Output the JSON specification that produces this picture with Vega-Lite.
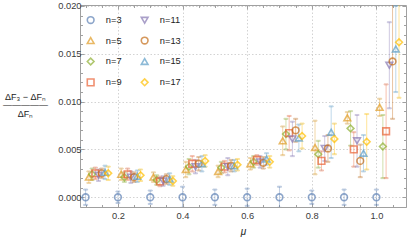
{
  "$schema": "https://vega.github.io/schema/vega-lite/v6.json",
  "width": 326,
  "height": 202,
  "autosize": {"type": "none"},
  "padding": {"left": 80, "top": 5, "right": 1, "bottom": 33},
  "background": "white",
  "config": {
    "view": {"stroke": "#a0a0a0", "strokeWidth": 1},
    "font": "Liberation Sans",
    "axis": {
      "domain": false,
      "tickColor": "#a0a0a0",
      "tickWidth": 1,
      "labelColor": "#3a3a3a",
      "labelFont": "Liberation Sans",
      "labelFontSize": 9.3,
      "titleFont": "Liberation Sans",
      "titleFontWeight": "normal",
      "titleColor": "#222",
      "gridColor": "#c8c8c8",
      "gridDash": [1.5, 2],
      "gridWidth": 0.8
    },
    "legend": {
      "padding": 0, "symbolSize": 45, "symbolStrokeWidth": 1.6, "labelFontSize": 9.3, "labelColor": "#222",
      "labelOffset": 10.5, "rowPadding": 6.9, "columnPadding": 16, "labelFont": "Liberation Sans"
    }
  },
  "data": {"values": [
    {"n":"n=3","x":0.1,"y":0,"e":0.0008},{"n":"n=3","x":0.2,"y":0,"e":0.0006},{"n":"n=3","x":0.3,"y":0,"e":0.0007},{"n":"n=3","x":0.4,"y":0,"e":0.0011},{"n":"n=3","x":0.5,"y":0,"e":0.0008},{"n":"n=3","x":0.6,"y":0,"e":0.0009},{"n":"n=3","x":0.7,"y":0,"e":0.0011},{"n":"n=3","x":0.8,"y":0,"e":0.0007},{"n":"n=3","x":0.9,"y":0,"e":0.0008},{"n":"n=3","x":1.0,"y":0,"e":0.0008},
    {"n":"n=5","x":0.11,"y":0.0021,"e":0.0006},{"n":"n=5","x":0.21,"y":0.0024,"e":0.0006},{"n":"n=5","x":0.31,"y":0.0021,"e":0.0005},{"n":"n=5","x":0.41,"y":0.0029,"e":0.0008},{"n":"n=5","x":0.51,"y":0.0027,"e":0.0006},{"n":"n=5","x":0.61,"y":0.0035,"e":0.0006},{"n":"n=5","x":0.71,"y":0.0059,"e":0.0015},{"n":"n=5","x":0.81,"y":0.0052,"e":0.0028},{"n":"n=5","x":0.91,"y":0.0083,"e":0.0006},{"n":"n=5","x":1.01,"y":0.0094,"e":0.0009},
    {"n":"n=7","x":0.12,"y":0.0024,"e":0.0006},{"n":"n=7","x":0.22,"y":0.0021,"e":0.0005},{"n":"n=7","x":0.32,"y":0.0018,"e":0.0005},{"n":"n=7","x":0.42,"y":0.0032,"e":0.0008},{"n":"n=7","x":0.52,"y":0.0031,"e":0.0006},{"n":"n=7","x":0.62,"y":0.0037,"e":0.0006},{"n":"n=7","x":0.72,"y":0.0066,"e":0.0016},{"n":"n=7","x":0.82,"y":0.0045,"e":0.0014},{"n":"n=7","x":0.92,"y":0.0072,"e":0.0018},{"n":"n=7","x":1.02,"y":0.0053,"e":0.0033},
    {"n":"n=9","x":0.13,"y":0.0025,"e":0.0006},{"n":"n=9","x":0.23,"y":0.0024,"e":0.0006},{"n":"n=9","x":0.33,"y":0.00165,"e":0.0005},{"n":"n=9","x":0.43,"y":0.0035,"e":0.0008},{"n":"n=9","x":0.53,"y":0.0032,"e":0.0006},{"n":"n=9","x":0.63,"y":0.0039,"e":0.0005},{"n":"n=9","x":0.73,"y":0.0067,"e":0.0018},{"n":"n=9","x":0.83,"y":0.0038,"e":0.001},{"n":"n=9","x":0.93,"y":0.005,"e":0.0018},{"n":"n=9","x":1.03,"y":0.0069,"e":0.0049},
    {"n":"n=11","x":0.14,"y":0.0023,"e":0.0006},{"n":"n=11","x":0.24,"y":0.0021,"e":0.0006},{"n":"n=11","x":0.34,"y":0.0017,"e":0.0005},{"n":"n=11","x":0.44,"y":0.0032,"e":0.0007},{"n":"n=11","x":0.54,"y":0.0032,"e":0.0009},{"n":"n=11","x":0.64,"y":0.0037,"e":0.0006},{"n":"n=11","x":0.74,"y":0.0061,"e":0.0018},{"n":"n=11","x":0.84,"y":0.0051,"e":0.0013},{"n":"n=11","x":0.94,"y":0.0059,"e":0.0027},{"n":"n=11","x":1.04,"y":0.0138,"e":0.0045},
    {"n":"n=13","x":0.15,"y":0.0025,"e":0.0005},{"n":"n=13","x":0.25,"y":0.0021,"e":0.0005},{"n":"n=13","x":0.35,"y":0.0019,"e":0.0005},{"n":"n=13","x":0.45,"y":0.0035,"e":0.0007},{"n":"n=13","x":0.55,"y":0.0033,"e":0.0006},{"n":"n=13","x":0.65,"y":0.0036,"e":0.0006},{"n":"n=13","x":0.75,"y":0.007,"e":0.0012},{"n":"n=13","x":0.85,"y":0.0051,"e":0.0014},{"n":"n=13","x":0.95,"y":0.0038,"e":0.0017},{"n":"n=13","x":1.05,"y":0.0142,"e":0.006},
    {"n":"n=15","x":0.16,"y":0.0026,"e":0.0007},{"n":"n=15","x":0.26,"y":0.0022,"e":0.0006},{"n":"n=15","x":0.36,"y":0.0019,"e":0.0006},{"n":"n=15","x":0.46,"y":0.0035,"e":0.0008},{"n":"n=15","x":0.56,"y":0.0033,"e":0.0006},{"n":"n=15","x":0.66,"y":0.004,"e":0.0006},{"n":"n=15","x":0.76,"y":0.0062,"e":0.0014},{"n":"n=15","x":0.86,"y":0.0068,"e":0.0027},{"n":"n=15","x":0.96,"y":0.0046,"e":0.0019},{"n":"n=15","x":1.06,"y":0.0155,"e":0.0045},
    {"n":"n=17","x":0.17,"y":0.0025,"e":0.0007},{"n":"n=17","x":0.27,"y":0.0023,"e":0.0006},{"n":"n=17","x":0.37,"y":0.0017,"e":0.0005},{"n":"n=17","x":0.47,"y":0.0038,"e":0.0006},{"n":"n=17","x":0.57,"y":0.0034,"e":0.0006},{"n":"n=17","x":0.67,"y":0.0037,"e":0.0006},{"n":"n=17","x":0.77,"y":0.0064,"e":0.0013},{"n":"n=17","x":0.87,"y":0.0061,"e":0.0016},{"n":"n=17","x":0.97,"y":0.0058,"e":0.0029},{"n":"n=17","x":1.07,"y":0.0162,"e":0.0058}
  ]},
  "resolve": {"axis": {"x": "independent", "y": "independent"}},
  "layer": [
    {
      "mark": {"type": "errorbar", "ticks": {"size": 4}, "opacity": 0.4, "thickness": 1, "clip": true},
      "encoding": {
        "x": {"field": "x", "type": "quantitative",
          "scale": {"domain": [0.0826, 1.0916], "nice": false, "zero": false},
          "axis": {"orient": "bottom", "title": "μ", "titleFontStyle": "italic", "titleFontSize": 10, "titlePadding": 6,
            "values": [0.1,0.15,0.2,0.25,0.3,0.35,0.4,0.45,0.5,0.55,0.6,0.65,0.7,0.75,0.8,0.85,0.9,0.95,1.0,1.05],
            "labelExpr": "abs(datum.value*5 - round(datum.value*5)) < 0.001 ? format(datum.value, '.1f') : ''",
            "tickSize": {"condition": {"test": "abs(datum.value*5 - round(datum.value*5)) < 0.001", "value": -4}, "value": -2.5},
            "gridOpacity": {"condition": {"test": "abs(datum.value*5 - round(datum.value*5)) < 0.001", "value": 1}, "value": 0},
            "grid": true, "labelPadding": 8.5}},
        "y": {"field": "y", "type": "quantitative",
          "scale": {"domain": [-0.00102, 0.0201], "nice": false, "zero": false},
          "axis": {"orient": "left",
            "title": ["ΔF₃ − ΔFₙ", "—————", "ΔFₙ"],
            "titleAngle": 0, "titleAlign": "center", "titleBaseline": "middle", "titleFontSize": 9, "titleLineHeight": 8.5,
            "titleX": -55, "titleY": 91,
            "values": [-0.001,0,0.001,0.002,0.003,0.004,0.005,0.006,0.007,0.008,0.009,0.01,0.011,0.012,0.013,0.014,0.015,0.016,0.017,0.018,0.019,0.02],
            "labelExpr": "abs(datum.value*200 - round(datum.value*200)) < 0.001 ? format(datum.value, '.3f') : ''",
            "tickSize": {"condition": {"test": "abs(datum.value*200 - round(datum.value*200)) < 0.001", "value": -4}, "value": -2.5},
            "gridOpacity": {"condition": {"test": "abs(datum.value*200 - round(datum.value*200)) < 0.001", "value": 1}, "value": 0},
            "grid": true, "labelPadding": 3}},
        "yError": {"field": "e"},
        "stroke": {"field": "n", "type": "nominal", "legend": null,
          "scale": {"domain": ["n=3","n=11","n=5","n=13","n=7","n=15","n=9","n=17"],
                    "range": ["#5E81B5","#8778B3","#E19C24","#C56E1A","#8FB032","#5D9EC7","#EB6235","#FFBF00"]}}
      }
    },
    {
      "mark": {"type": "point", "filled": false, "strokeWidth": 1.6, "size": 45},
      "encoding": {
        "x": {"field": "x", "type": "quantitative",
          "axis": {"orient": "top", "title": null, "labels": false, "grid": false,
            "values": [0.1,0.15,0.2,0.25,0.3,0.35,0.4,0.45,0.5,0.55,0.6,0.65,0.7,0.75,0.8,0.85,0.9,0.95,1.0,1.05],
            "tickSize": {"condition": {"test": "abs(datum.value*5 - round(datum.value*5)) < 0.001", "value": -4}, "value": -2.5}}},
        "y": {"field": "y", "type": "quantitative",
          "axis": {"orient": "right", "title": null, "labels": false, "grid": false,
            "values": [-0.001,0,0.001,0.002,0.003,0.004,0.005,0.006,0.007,0.008,0.009,0.01,0.011,0.012,0.013,0.014,0.015,0.016,0.017,0.018,0.019,0.02],
            "tickSize": {"condition": {"test": "abs(datum.value*200 - round(datum.value*200)) < 0.001", "value": -4}, "value": -2.5}}},
        "color": {"field": "n", "type": "nominal",
          "scale": {"domain": ["n=3","n=5","n=7","n=9","n=11","n=13","n=15","n=17"],
                    "range": ["#5E81B5","#E19C24","#8FB032","#EB6235","#8778B3","#C56E1A","#5D9EC7","#FFBF00"]},
          "legend": {"orient": "none", "legendX": 6, "legendY": 10, "columns": 2, "title": null}},
        "shape": {"field": "n", "type": "nominal",
          "scale": {"domain": ["n=3","n=5","n=7","n=9","n=11","n=13","n=15","n=17"],
                    "range": ["circle","triangle-up","diamond","square","triangle-down","circle","triangle-up","diamond"]},
          "legend": {"orient": "none", "legendX": 6, "legendY": 10, "columns": 2, "title": null}}
      }
    }
  ]
}
